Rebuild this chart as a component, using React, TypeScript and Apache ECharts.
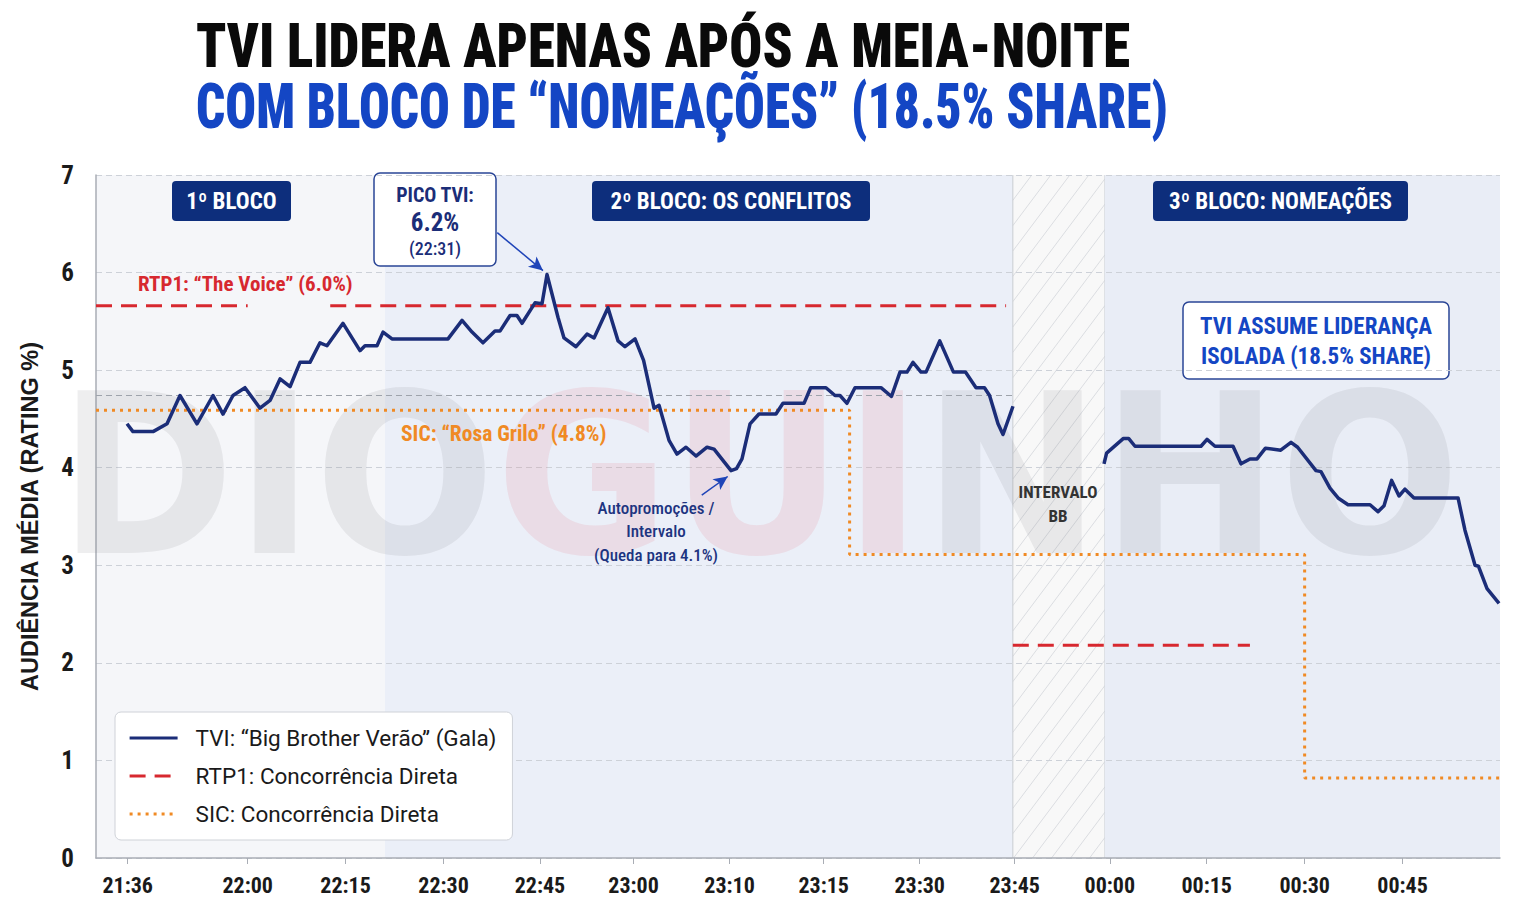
import React, { useEffect, useRef } from "react";
import * as echarts from "echarts";

// ---------- DATA ----------
const tickPos = [3.3, 15.8, 26.0, 36.2, 46.25, 56.0, 66.0, 75.8, 85.8, 95.7, 105.6, 115.7, 125.9, 136.1];
const tickLabels = ["21:36", "22:00", "22:15", "22:30", "22:45", "23:00", "23:10", "23:15", "23:30", "23:45", "00:00", "00:15", "00:30", "00:45"];

const tviTime = [
  3.23, 3.85, 5.94, 7.4, 8.75, 10.52, 12.19, 13.23, 14.27, 15.52, 17.08, 18.13, 19.17, 20.21, 21.25, 22.29, 23.33, 24.06,
  25.73, 27.5, 28.02, 29.27, 29.9, 30.83, 36.67, 38.13, 39.17, 40.31, 41.56, 42.08, 43.13, 43.85, 44.38, 45.73, 46.46,
  46.98, 48.13, 48.75, 50.0, 51.15, 51.88, 53.33, 54.38, 55.1, 56.15, 57.04, 58.13, 58.65, 59.69, 60.52, 61.46, 62.5,
  63.65, 64.38, 66.15, 66.72, 67.29, 68.13, 69.06, 70.83, 71.56, 73.75, 74.44, 76.04, 76.98, 77.5, 78.23, 79.06, 81.77,
  82.86, 83.75, 84.48, 85.1, 85.94, 86.46, 87.89, 89.32, 90.57, 91.67, 92.55, 93.08, 93.96, 94.48, 95.52,
  100,
  105.0, 105.27, 107.03, 107.56, 108.23, 115.1, 115.73, 116.56, 118.44, 119.27, 120.21, 120.94, 121.82, 123.41, 124.48,
  125.17, 127.08, 127.6, 128.54, 129.38, 130.42, 132.71, 133.54, 134.17, 134.96, 135.73, 136.35, 137.29, 141.88, 142.6,
  143.65, 144.01, 144.9, 146.15,
];
const tviRating = [
  4.45, 4.37, 4.37, 4.45, 4.74, 4.45, 4.74, 4.55, 4.74, 4.82, 4.61, 4.69, 4.91, 4.83, 5.08, 5.08, 5.28, 5.25,
  5.48, 5.2, 5.25, 5.25, 5.39, 5.32, 5.32, 5.51, 5.39, 5.28, 5.4, 5.4, 5.56, 5.56, 5.48, 5.69, 5.68,
  5.98, 5.54, 5.33, 5.24, 5.37, 5.33, 5.64, 5.3, 5.24, 5.32, 5.1, 4.61, 4.64, 4.28, 4.14, 4.21, 4.12,
  4.21, 4.19, 3.97, 3.99, 4.09, 4.45, 4.55, 4.55, 4.66, 4.66, 4.82, 4.82, 4.74, 4.74, 4.66, 4.82, 4.82,
  4.73, 4.98, 4.98, 5.08, 4.98, 4.98, 5.3, 4.98, 4.98, 4.82, 4.82, 4.74, 4.45, 4.34, 4.63,
  null,
  4.04, 4.15, 4.3, 4.3, 4.22, 4.22, 4.29, 4.22, 4.22, 4.04, 4.09, 4.09, 4.2, 4.18, 4.26,
  4.21, 3.97, 3.96, 3.79, 3.69, 3.62, 3.62, 3.55, 3.61, 3.87, 3.71, 3.78, 3.69, 3.69, 3.36,
  3.0, 2.99, 2.76, 2.61,
];

const rtpTime = [0, 15.8, 20, 24.4, 94.8, 95.1, 95.5, 120.2];
const rtpRating = [5.66, 5.66, null, 5.66, 5.66, null, 2.18, 2.18];

const sicTime = [0, 78.5, 78.5, 125.9, 125.9, 146.25];
const sicRating = [4.59, 4.59, 3.11, 3.11, 0.82, 0.82];

const refTime = [0, 95.5];
const refRating = [4.74, 4.74];

const blockStart = [0, 30.1, 95.5, 105.1];
const blockEnd = [30.1, 95.5, 105.1, 146.25];

const X_MAX = 146.25;

const NAMES = ["TVI: “Big Brother Verão” (Gala)", "RTP1: Concorrência Direta", "SIC: Concorrência Direta"];

// ---------- STYLE ----------
const COND = "'Roboto Condensed','DejaVu Sans Condensed','Liberation Sans Narrow','Arial Narrow',sans-serif";
const NAVY = "#1b2d78";
const BOXNAVY = "#0d2e7c";
const RED = "#d7282f";
const ORANGE = "#f08a24";
const BLUE = "#1446c4";
const blockColors = ["#f5f6f9", "#ebeff8", "#f8f8f8", "#e9edf6"];

const pairs = (xs: number[], ys: (number | null)[]) => xs.map((x, i) => [x, ys[i] === null ? "-" : ys[i]]);

function blockLabel(text: string, x: number, w: number) {
  return {
    type: "group",
    z: 20,
    children: [
      { type: "rect", shape: { x, y: 181, width: w, height: 40, r: 4 }, style: { fill: BOXNAVY } },
      {
        type: "text",
        style: {
          text, x: x + w / 2, y: 201, align: "center", verticalAlign: "middle",
          fill: "#fff", fontSize: 23, fontWeight: "bold", fontFamily: COND,
        },
      },
    ],
  };
}

function txt(text: string, x: number, y: number, fill: string, fontSize: number, extra: any = {}) {
  return {
    type: "text",
    z: 20,
    style: {
      text, x, y, fill, fontSize, fontWeight: "bold", fontFamily: COND,
      verticalAlign: "middle", align: "left", ...extra,
    },
  };
}

function title(text: string, x: number, y: number, fill: string, sx: number) {
  return {
    type: "text",
    z: 20,
    x,
    y,
    scaleX: sx,
    style: {
      text, x: 0, y: 0, fill, fontSize: 62, fontWeight: 900, fontFamily: COND,
      verticalAlign: "middle", align: "left",
    },
  };
}

export default function App() {
  const ref = useRef<HTMLDivElement>(null);
  useEffect(() => {
    if (!ref.current) return;
    const chart = echarts.init(ref.current, null, { renderer: "svg" });
    const option: any = {
      animation: false,
      backgroundColor: "#ffffff",
      grid: { left: 96, right: 36, top: 175, bottom: 51, containLabel: false },
      xAxis: {
        type: "value",
        min: 0,
        max: X_MAX,
        splitLine: { show: false },
        axisLine: { show: true, lineStyle: { color: "#a9adb5", width: 1.5 } },
        axisTick: { show: true, customValues: tickPos, length: 6, lineStyle: { color: "#a9adb5" } },
        axisLabel: {
          customValues: tickPos,
          margin: 16,
          color: "#1a1a1a",
          fontSize: 22,
          fontWeight: "bold",
          fontFamily: COND,
          formatter: (v: number) => {
            const i = tickPos.findIndex((p) => Math.abs(p - v) < 0.01);
            return i >= 0 ? tickLabels[i] : "";
          },
        },
      },
      yAxis: {
        type: "value",
        min: 0,
        max: 7,
        interval: 1,
        name: "AUDIÊNCIA MÉDIA (RATING %)",
        nameLocation: "middle",
        nameRotate: 90,
        nameGap: 54,
        nameTextStyle: { fontSize: 23.5, fontWeight: "bold", color: "#1a1a1a", fontFamily: "'Liberation Sans',Arial,sans-serif" },
        axisLine: { show: true, lineStyle: { color: "#a9adb5", width: 1.5 } },
        axisTick: { show: false },
        axisLabel: { margin: 22, color: "#1a1a1a", fontSize: 25, fontWeight: "bold", fontFamily: COND },
        splitLine: { show: true, lineStyle: { color: "#cdd1d8", type: [6, 4], width: 1 } },
      },
      legend: {
        data: NAMES,
        orient: "vertical",
        left: 115,
        top: 712,
        backgroundColor: "#ffffff",
        borderColor: "#cfd2d8",
        borderWidth: 1,
        borderRadius: 6,
        padding: [14, 16, 14, 13],
        itemWidth: 48,
        itemHeight: 14,
        itemGap: 14,
        itemStyle: { opacity: 0 },
        lineStyle: { width: 3.2 },
        textStyle: { fontSize: 22.5, color: "#1a1a1a", fontFamily: "Roboto, sans-serif", padding: [0, 0, 0, 13], lineHeight: 24 },
      },
      graphic: [
        // watermark
        {
          type: "text",
          z: 1,
          silent: true,
          x: 58,
          y: 476,
          scaleX: 0.96,
          style: {
            x: 0,
            y: 0,
            verticalAlign: "middle",
            text: "{a|DIO}{b|GUI}{a|NHO}",
            rich: {
              a: { fontSize: 222, fontWeight: 900, fontFamily: "'DejaVu Sans',sans-serif", fill: "rgba(120,120,130,0.13)" },
              b: { fontSize: 222, fontWeight: 900, fontFamily: "'DejaVu Sans',sans-serif", fill: "rgba(225,70,95,0.11)" },
            },
          },
        },
        // title
        title("TVI LIDERA APENAS APÓS A MEIA-NOITE", 196, 46, "#0a0a0a", 0.885),
        title("COM BLOCO DE “NOMEAÇÕES” (18.5% SHARE)", 196, 107, BLUE, 0.826),
        // block labels
        blockLabel("1º BLOCO", 172, 119),
        blockLabel("2º BLOCO: OS CONFLITOS", 592, 278),
        blockLabel("3º BLOCO: NOMEAÇÕES", 1153, 255),
        // peak box
        {
          type: "group",
          z: 20,
          children: [
            { type: "rect", shape: { x: 374, y: 173, width: 122, height: 93, r: 6 }, style: { fill: "#fff", stroke: "#2a4596", lineWidth: 1.5 } },
            { type: "text", style: { text: "PICO TVI:", x: 435, y: 195, align: "center", verticalAlign: "middle", fill: NAVY, fontSize: 20, fontWeight: "bold", fontFamily: COND } },
            { type: "text", style: { text: "6.2%", x: 435, y: 222, align: "center", verticalAlign: "middle", fill: NAVY, fontSize: 25, fontWeight: "bold", fontFamily: COND } },
            { type: "text", style: { text: "(22:31)", x: 435, y: 248, align: "center", verticalAlign: "middle", fill: NAVY, fontSize: 18, fontWeight: 500, fontFamily: COND } },
          ],
        },
        // leadership box
        {
          type: "group",
          z: 20,
          children: [
            { type: "rect", shape: { x: 1183, y: 302, width: 266, height: 77, r: 6 }, style: { fill: "#fff", stroke: "#2a4596", lineWidth: 1.5 } },
            { type: "text", style: { text: "TVI ASSUME LIDERANÇA", x: 1316, y: 326, align: "center", verticalAlign: "middle", fill: BLUE, fontSize: 23, fontWeight: "bold", fontFamily: COND } },
            { type: "text", style: { text: "ISOLADA (18.5% SHARE)", x: 1316, y: 356, align: "center", verticalAlign: "middle", fill: BLUE, fontSize: 23, fontWeight: "bold", fontFamily: COND } },
          ],
        },
        txt("RTP1: “The Voice” (6.0%)", 138, 284, RED, 21),
        txt("SIC: “Rosa Grilo” (4.8%)", 401, 433, ORANGE, 21.5),
        txt("Autopromoções /", 656, 508, "#1d3480", 17, { align: "center", fontWeight: 500 }),
        txt("Intervalo", 656, 531, "#1d3480", 17, { align: "center", fontWeight: 500 }),
        txt("(Queda para 4.1%)", 656, 555, "#1d3480", 17, { align: "center", fontWeight: 500 }),
        txt("INTERVALO", 1058, 492, "#333", 17, { align: "center" }),
        txt("BB", 1058, 516, "#333", 17, { align: "center" }),
      ],
      series: [
        {
          name: "bg",
          type: "custom",
          z: -1,
          silent: true,
          encode: { x: [0, 1], y: 2 },
          data: blockStart.map((s, i) => [s, blockEnd[i], i]),
          renderItem: (params: any, api: any) => {
            const s = api.value(0);
            const e = api.value(1);
            const k = api.value(2);
            const p0 = api.coord([s, 7]);
            const p1 = api.coord([e, 0]);
            const x0 = p0[0], y0 = p0[1], x1 = p1[0], y1 = p1[1];
            const H = y1 - y0;
            const children: any[] = [
              { type: "rect", shape: { x: x0, y: y0, width: x1 - x0, height: H }, style: { fill: blockColors[k] } },
            ];
            if (k === 2) {
              const sl = 0.75;
              for (let c = x0 - sl * H; c < x1; c += 19) {
                const hA = Math.max(0, (x0 - c) / sl);
                const hB = Math.min(H, (x1 - c) / sl);
                if (hB > hA) {
                  children.push({
                    type: "line",
                    shape: { x1: c + sl * hA, y1: y1 - hA, x2: c + sl * hB, y2: y1 - hB },
                    style: { stroke: "#d3d6db", lineWidth: 0.8 },
                  });
                }
              }
              children.push({ type: "line", shape: { x1: x0, y1: y0, x2: x0, y2: y1 }, style: { stroke: "#cfd2d8", lineWidth: 1.2 } });
              children.push({ type: "line", shape: { x1: x1, y1: y0, x2: x1, y2: y1 }, style: { stroke: "#cfd2d8", lineWidth: 1.2 } });
            }
            return { type: "group", children };
          },
        },
        {
          name: "ref",
          type: "line",
          z: 3,
          silent: true,
          symbol: "none",
          data: pairs(refTime, refRating),
          lineStyle: { color: "#9ea3ab", width: 1.2, type: [6, 4] },
        },
        {
          name: NAMES[2],
          type: "line",
          z: 4,
          symbol: "none",
          data: pairs(sicTime, sicRating),
          itemStyle: { color: ORANGE },
          lineStyle: { color: ORANGE, width: 3, type: [3, 5] },
        },
        {
          name: NAMES[1],
          type: "line",
          z: 5,
          symbol: "none",
          data: pairs(rtpTime, rtpRating),
          itemStyle: { color: RED },
          lineStyle: { color: RED, width: 3, type: [16, 9] },
        },
        {
          name: NAMES[0],
          type: "line",
          z: 6,
          symbol: "none",
          data: pairs(tviTime, tviRating),
          itemStyle: { color: NAVY },
          lineStyle: { color: NAVY, width: 3.5, join: "round" },
          markLine: {
            silent: true,
            symbolSize: [10, 14],
            label: { show: false },
            lineStyle: { color: "#1f44b8", width: 1.5, type: "solid" },
            data: [
              [
                { coord: [41.8, 6.41], symbol: "none" },
                { coord: [46.56, 6.02], symbol: "arrow" },
              ],
              [
                { coord: [63.1, 3.72], symbol: "none" },
                { coord: [65.8, 3.91], symbol: "arrow" },
              ],
            ],
          },
        },
      ],
    };
    chart.setOption(option);
    return () => chart.dispose();
  }, []);
  return (
    <div
      ref={ref}
      style={{ position: "fixed", left: 0, top: 0, width: 1536, height: 909, background: "#fff" }}
    />
  );
}
